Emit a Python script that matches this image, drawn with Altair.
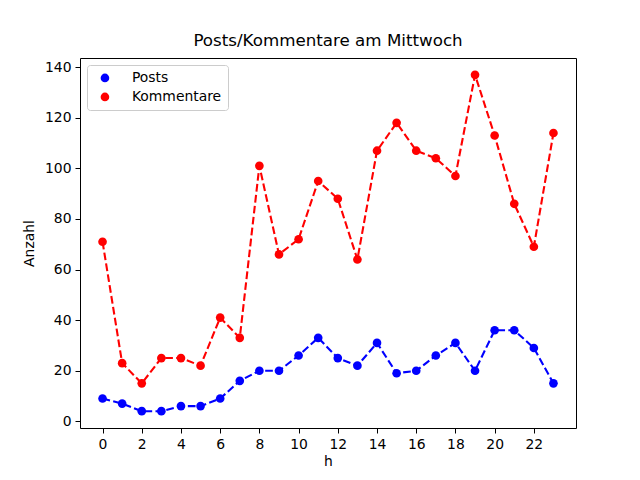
import altair as alt
import pandas as pd

hours = list(range(24))
posts = [9, 7, 4, 4, 6, 6, 9, 16, 20, 20, 26, 33, 25, 22, 31, 19, 20, 26, 31, 20, 36, 36, 29, 15]
kommentare = [71, 23, 15, 25, 25, 22, 41, 33, 101, 66, 72, 95, 88, 64, 107, 118, 107, 104, 97, 137, 113, 86, 69, 114]
series_names = ["Posts", "Kommentare"]
series_colors = ["#0000ff", "#ff0000"]

rows = []
for h, p, k in zip(hours, posts, kommentare):
    rows.append({"h": h, "Anzahl": p, "Serie": "Posts"})
    rows.append({"h": h, "Anzahl": k, "Serie": "Kommentare"})
df = pd.DataFrame(rows)

FONT = "DejaVu Sans"

x = alt.X("h:Q", title="h",
          scale=alt.Scale(domain=[-1.15, 24.15], nice=False, zero=False),
          axis=alt.Axis(values=list(range(0, 23, 2)), grid=False, tickSize=5,
                        labelPadding=4, titlePadding=4, domain=False,
                        tickColor="black", labelColor="black", titleColor="black",
                        labelFontSize=13.9, titleFontSize=13.9, titleFontWeight="normal",
                        labelFont=FONT, titleFont=FONT, labelFlush=False))
y = alt.Y("Anzahl:Q", title="Anzahl",
          scale=alt.Scale(domain=[-2.65, 143.65], nice=False, zero=False),
          axis=alt.Axis(values=list(range(0, 141, 20)), grid=False, tickSize=5,
                        labelPadding=4, titlePadding=8, domain=False,
                        tickColor="black", labelColor="black", titleColor="black",
                        labelFontSize=13.9, titleFontSize=13.9, titleFontWeight="normal",
                        labelFont=FONT, titleFont=FONT, labelFlush=False))
color_scale = alt.Scale(domain=series_names, range=series_colors)

legend = alt.Legend(title=None, orient="top-left", offset=7,
                    symbolType="circle", symbolSize=75, symbolStrokeWidth=0,
                    symbolDash=[1, 0],
                    labelFont=FONT, labelFontSize=13.9,
                    labelColor="black",
                    strokeColor="#cccccc", fillColor="white",
                    cornerRadius=3, padding=6,
                    rowPadding=4, labelOffset=20,
                    symbolOffset=5)

lines = alt.Chart(df).mark_line(strokeWidth=2.1, strokeDash=[7.7, 3.3]).encode(
    x=x, y=y,
    color=alt.Color("Serie:N", scale=color_scale, sort=series_names, legend=legend),
    detail="Serie:N",
)
points = alt.Chart(df).mark_point(filled=True, shape="circle", size=75, opacity=1).encode(
    x=x, y=y,
    color=alt.Color("Serie:N", scale=color_scale, sort=series_names, legend=legend),
)

chart = alt.layer(lines, points).properties(
    width=496, height=370,
    title=alt.TitleParams("Posts/Kommentare am Mittwoch", font=FONT, fontSize=16.7,
                          fontWeight="normal", color="black", anchor="middle", offset=8),
    autosize=alt.AutoSizeParams(type="none"),
    padding={"left": 72, "top": 50, "right": 56, "bottom": 45},
).configure_view(stroke="black", strokeWidth=1)

chart.save("out.html", embed_options={"renderer": "svg", "actions": False})
